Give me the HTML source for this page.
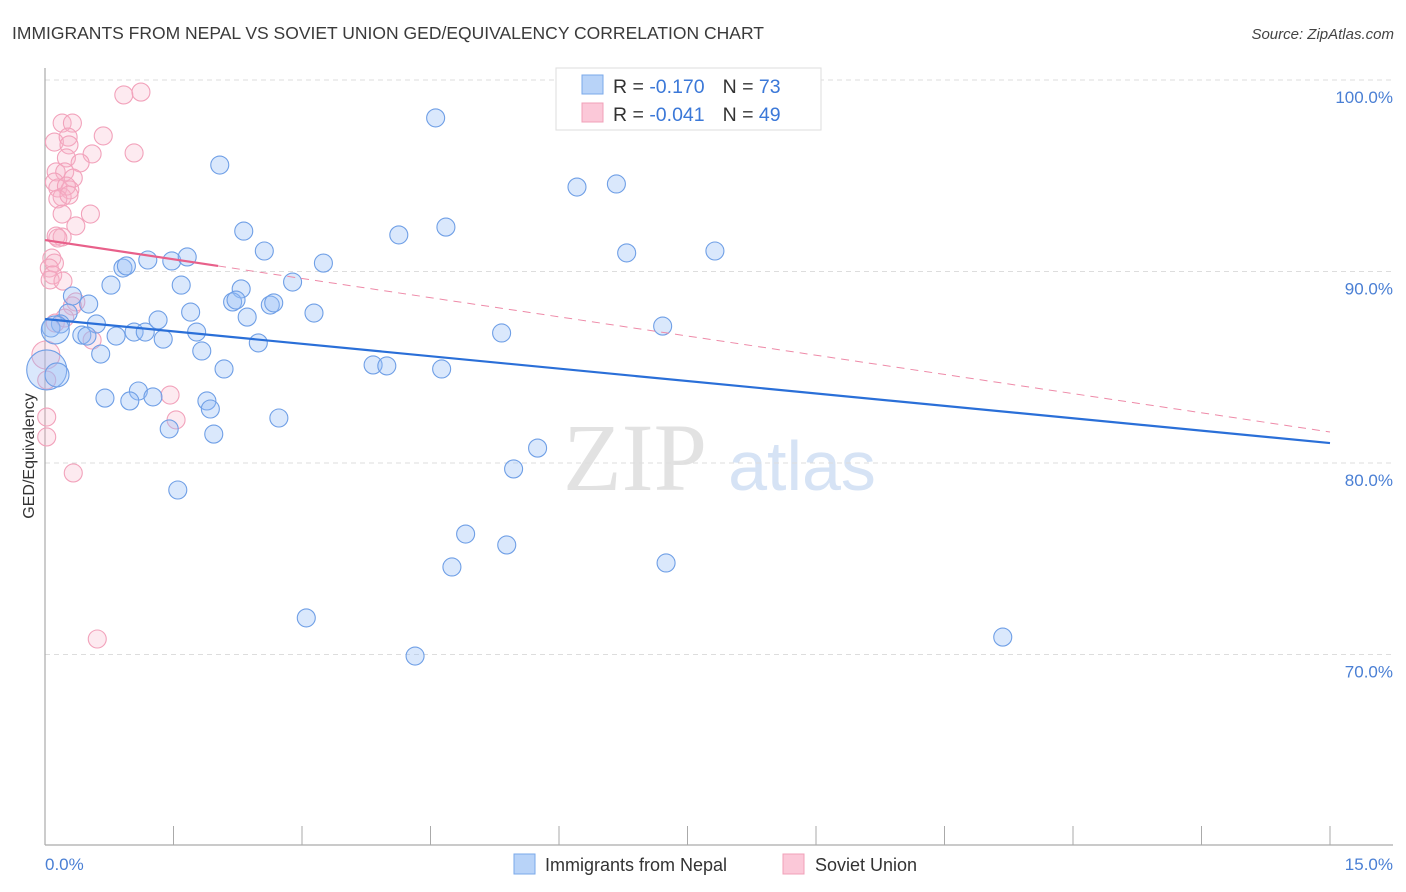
<!DOCTYPE html>
<html><head><meta charset="utf-8"><style>
body{margin:0;background:#fff;font-family:"Liberation Sans",sans-serif}
svg{display:block}
</style></head><body>
<svg width="1406" height="892" viewBox="0 0 1406 892" xmlns="http://www.w3.org/2000/svg" id="svg">
<text x="12" y="39" font-size="17.5" fill="#3a3a3a">IMMIGRANTS FROM NEPAL VS SOVIET UNION GED/EQUIVALENCY CORRELATION CHART</text>
<text x="1394" y="39" font-size="15" fill="#444" text-anchor="end" font-style="italic">Source: ZipAtlas.com</text>
<g>
<text x="635" y="490" font-size="96" fill="#e2e2e2" text-anchor="middle" font-family="Liberation Serif, serif">ZIP</text>
<text x="802" y="490" font-size="70" fill="#d6e3f5" text-anchor="middle">atlas</text>
</g>
<g id="grid"></g>
<line x1="45" y1="68" x2="45" y2="845" stroke="#aaa" stroke-width="1.2"/>
<line x1="45" y1="845" x2="1393" y2="845" stroke="#aaa" stroke-width="1.2"/>
<g id="ticks"></g>
<g id="points"></g>
<g id="trends"></g>
<text transform="translate(34,456) rotate(-90)" font-size="16" fill="#333" text-anchor="middle">GED/Equivalency</text>
<text x="45" y="870" font-size="17" fill="#4a7fd4">0.0%</text>
<text x="1393" y="870" font-size="17" fill="#4a7fd4" text-anchor="end">15.0%</text>
<g>
<rect x="556" y="68" width="265" height="62" fill="#fff" stroke="#ddd"/>
<rect x="582" y="75" width="21" height="19" fill="#b8d3f8" stroke="#7aa8ea"/>
<rect x="582" y="103" width="21" height="19" fill="#fbc8d8" stroke="#f0a0b8"/>
<text x="613" y="93" font-size="19.5" fill="#333">R = <tspan fill="#3b78d8">-0.170</tspan><tspan dx="18">N = </tspan><tspan fill="#3b78d8">73</tspan></text>
<text x="613" y="121" font-size="19.5" fill="#333">R = <tspan fill="#3b78d8">-0.041</tspan><tspan dx="18">N = </tspan><tspan fill="#3b78d8">49</tspan></text>
</g>
<g>
<rect x="514" y="854" width="21" height="20" fill="#b8d3f8" stroke="#7aa8ea"/>
<text x="545" y="871" font-size="18" fill="#333">Immigrants from Nepal</text>
<rect x="783" y="854" width="21" height="20" fill="#fbc8d8" stroke="#f0a0b8"/>
<text x="815" y="871" font-size="18" fill="#333">Soviet Union</text>
</g>
</svg>
<script>
const yTicks=[100,90,80,70];
const yTickLabels=["100.0%","90.0%","80.0%","70.0%"];
const xTicks=[0,1.5,3,4.5,6,7.5,9,10.5,12,13.5,15];
const nepalX=[2.04,4.56,6.21,6.67,2.32,4.13,4.68,2.56,6.79,7.82,1.20,1.48,1.66,0.91,0.95,3.25,0.77,1.59,2.89,2.29,0.32,0.51,2.19,2.23,2.63,2.67,1.70,3.14,0.27,2.36,1.32,0.60,0.18,0.07,5.33,7.21,0.43,0.49,0.83,1.04,1.17,1.77,1.38,2.49,1.83,0.65,3.83,3.99,4.63,2.09,0.02,0.14,1.09,0.70,0.99,1.26,1.89,1.93,2.73,1.45,1.97,5.75,5.47,1.55,4.91,5.39,4.75,7.25,3.05,11.18,4.32,0.12,6.33];
const nepalY=[95.56,98.02,94.41,94.57,92.11,91.91,92.32,91.07,90.97,91.07,90.60,90.55,90.76,90.18,90.29,90.44,89.29,89.29,89.45,89.09,88.72,88.30,88.41,88.51,88.25,88.36,87.88,87.83,87.83,87.62,87.47,87.26,87.26,87.05,86.79,87.15,86.68,86.63,86.63,86.84,86.84,86.84,86.47,86.27,85.85,85.69,85.12,85.07,84.91,84.91,84.86,84.60,83.76,83.39,83.24,83.45,83.24,82.82,82.35,81.78,81.51,80.78,79.69,78.59,76.29,75.72,74.57,74.78,71.91,70.91,69.92,86.95,99.27];
const nepalR=[9,9,9,9,9,9,9,9,9,9,9,9,9,9,9,9,9,9,9,9,9,9,9,9,9,9,9,9,9,9,9,9,9,9,9,9,9,9,9,9,9,9,9,9,9,9,9,9,9,9,20,12,9,9,9,9,9,9,9,9,9,9,9,9,9,9,9,9,9,9,9,14,9];
const sovietX=[0.92,1.12,0.20,0.32,0.11,0.27,0.28,0.68,0.55,0.25,1.04,0.41,0.13,0.23,0.33,0.11,0.15,0.29,0.20,0.25,0.15,0.28,0.53,0.20,0.36,0.13,0.20,0.15,0.08,0.11,0.05,0.09,0.06,0.21,0.36,0.32,0.23,0.12,0.55,0.01,0.02,1.46,1.53,0.02,0.02,0.33,0.61];
const sovietY=[99.22,99.37,97.75,97.75,96.76,97.02,96.61,97.08,96.14,95.93,96.19,95.67,95.20,95.20,94.88,94.67,94.36,94.26,93.89,94.46,93.79,93.99,93.00,93.00,92.38,91.85,91.80,91.75,90.70,90.44,90.18,89.82,89.56,89.50,88.41,88.20,87.57,87.31,86.42,85.64,84.33,83.55,82.25,82.40,81.36,79.48,70.81];
const nepalTrend=[87.52,81.04];
const sovietTrend=[91.64,81.62];
const sovietSolidEnd=2.02;
const NS='http://www.w3.org/2000/svg';
const xs=v=>45+v*(1285/15);
const ys=v=>80+(100-v)*19.15;
function mk(t,a,p){const e=document.createElementNS(NS,t);for(const k in a)e.setAttribute(k,a[k]);p.appendChild(e);return e;}
const grid=document.getElementById('grid');
yTicks.forEach((v,i)=>{
 const l=mk('line',{x1:45,x2:1393,y1:ys(v),y2:ys(v),stroke:'#ddd','stroke-dasharray':'5,4'},grid);
 
 
 const t=mk('text',{x:1393,y:ys(v)+23,'font-size':17,fill:'#4a7fd4','text-anchor':'end'},grid);
 t.textContent=yTickLabels[i];
 
 
});
const tk=document.getElementById('ticks');
xTicks.forEach(v=>{
 const l=mk('line',{x1:xs(v),x2:xs(v),y1:826,y2:845,stroke:'#aaa'},tk);
 
 
});
const pg=document.getElementById('points');
sovietX.forEach((x,i)=>{
 const c=mk('circle',{cx:xs(x),cy:ys(sovietY[i]),r:(i==39?14:9),fill:'rgba(248,180,202,0.28)',stroke:'#f2a2bb','stroke-width':1.1},pg);
 
 
});
nepalX.forEach((x,i)=>{
 const c=mk('circle',{cx:xs(x),cy:ys(nepalY[i]),r:nepalR[i],fill:'rgba(150,190,245,0.35)',stroke:'#6f9fe6','stroke-width':1.1},pg);
 
 
});
const tg=document.getElementById('trends');
const nt=mk('line',{x1:xs(0),y1:ys(nepalTrend[0]),x2:xs(15),y2:ys(nepalTrend[1]),stroke:'#2a6fd8','stroke-width':2.2},tg);


const sy=x=>sovietTrend[0]+(sovietTrend[1]-sovietTrend[0])*x/15;
const sd=mk('line',{x1:xs(sovietSolidEnd),y1:ys(sy(sovietSolidEnd)),x2:xs(15),y2:ys(sovietTrend[1]),stroke:'#ee8aa8','stroke-width':1,'stroke-dasharray':'8,6'},tg);


const ss=mk('line',{x1:xs(0),y1:ys(sovietTrend[0]),x2:xs(sovietSolidEnd),y2:ys(sy(sovietSolidEnd)),stroke:'#e8608a','stroke-width':2.2},tg);


</script>
</body></html>
